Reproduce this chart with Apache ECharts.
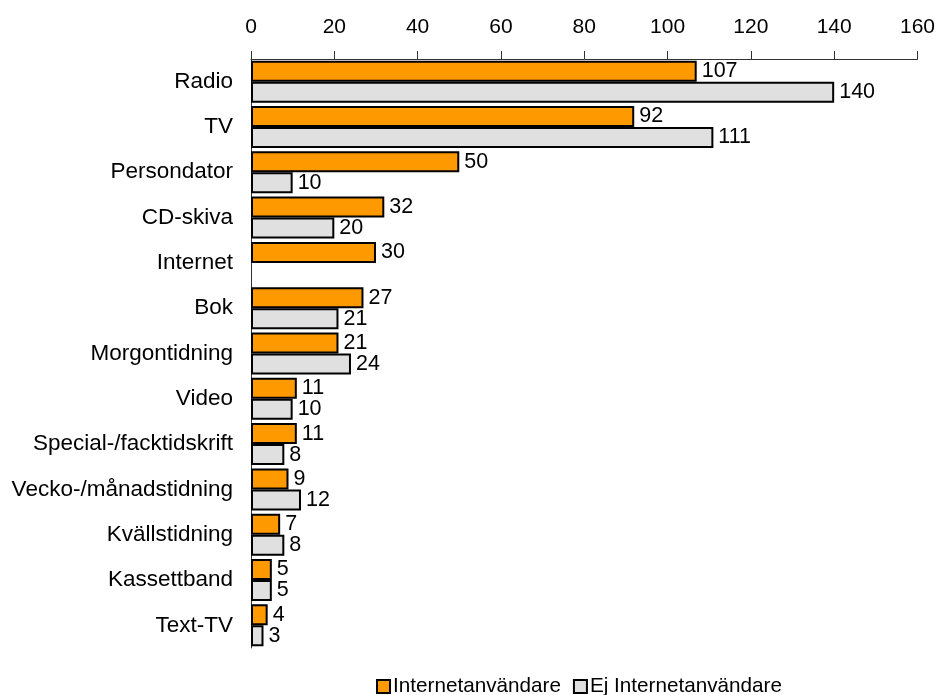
<!DOCTYPE html>
<html><head><meta charset="utf-8">
<script src="https://cdn.jsdelivr.net/npm/echarts@6/dist/echarts.min.js"></script>
<style>html,body{margin:0;padding:0;background:#fff}#c{width:938px;height:695px}</style>
</head><body><div id="c"></div>
<script>
const categories = ['Radio','TV','Persondator','CD-skiva','Internet','Bok','Morgontidning','Video','Special-/facktidskrift','Vecko-/månadstidning','Kvällstidning','Kassettband','Text-TV'];
const internetUsers = [107,92,50,32,30,27,21,11,11,9,7,5,4];
const nonUsers = [140,111,10,20,null,21,24,10,8,12,8,5,3];
const xTicks = {min:0, max:160, interval:20};
const font = 'Liberation Sans, Arial, sans-serif';
const chart = echarts.init(document.getElementById('c'));
const lbl = {show:true, position:'right', distance:5, color:'#000', fontFamily:font, fontSize:21.5};
chart.setOption({
  animation:false,
  textStyle:{fontFamily:font},
  grid:{left:251, right:20, top:59, bottom:47, containLabel:false},
  legend:{top:671, left:371, icon:'rect', itemWidth:13, itemHeight:13, itemGap:12,
    textStyle:{fontSize:20.7, color:'#000', fontFamily:font, padding:[0,0,0,-2]},
    data:['Internetanvändare','Ej Internetanvändare']},
  xAxis:{type:'value', position:'top', min:xTicks.min, max:xTicks.max, interval:xTicks.interval,
    axisLine:{show:true, lineStyle:{color:'#333', width:1}},
    axisTick:{show:true, length:8, lineStyle:{color:'#333'}},
    axisLabel:{fontSize:21, color:'#000', margin:21, fontFamily:font},
    splitLine:{show:false}},
  yAxis:{type:'category', inverse:true, data:categories,
    axisLine:{show:true, lineStyle:{color:'#333', width:1}},
    axisTick:{show:false},
    axisLabel:{fontSize:22.5, color:'#000', margin:18, fontFamily:font}},
  series:[
    {name:'Internetanvändare', type:'bar', data:internetUsers, barWidth:21, barGap:'0%',
     itemStyle:{color:'#FF9900', borderColor:'#000', borderWidth:2}, label:lbl},
    {name:'Ej Internetanvändare', type:'bar', data:nonUsers, barWidth:21,
     itemStyle:{color:'#E0E0E0', borderColor:'#000', borderWidth:2}, label:lbl}
  ]
});
</script></body></html>
